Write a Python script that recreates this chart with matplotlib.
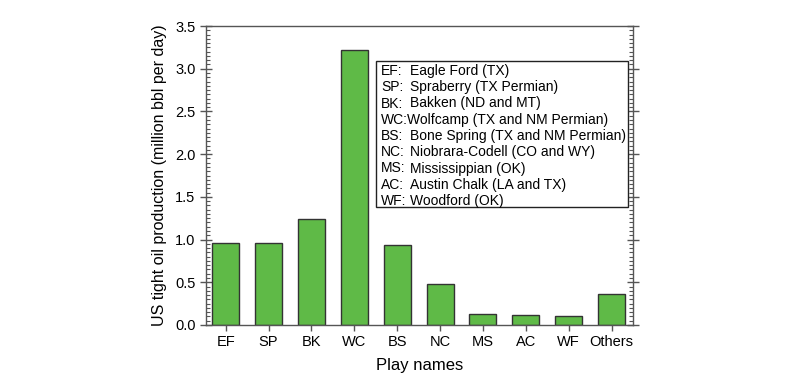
import matplotlib
matplotlib.use("Agg")
import matplotlib.pyplot as plt
from matplotlib.ticker import MultipleLocator

plt.rcParams['font.family'] = ['Liberation Sans', 'DejaVu Sans']

plays = ["EF", "SP", "BK", "WC", "BS", "NC", "MS", "AC", "WF", "Others"]
production = [0.955, 0.955, 1.235, 3.22, 0.935, 0.48, 0.128, 0.12, 0.10, 0.367]
legend_lines = [
    ("EF:", "Eagle Ford (TX)"),
    ("SP:", "Spraberry (TX Permian)"),
    ("BK:", "Bakken (ND and MT)"),
    ("WC:", "Wolfcamp (TX and NM Permian)"),
    ("BS:", "Bone Spring (TX and NM Permian)"),
    ("NC:", "Niobrara-Codell (CO and WY)"),
    ("MS:", "Mississippian (OK)"),
    ("AC:", "Austin Chalk (LA and TX)"),
    ("WF:", "Woodford (OK)"),
]

fig = plt.figure(figsize=(8, 3.75), dpi=100)
ax = fig.add_axes([206/800, 1-325/375, (633-206)/800, (325-26)/375])

x = list(range(len(plays)))
ax.bar(x, production, width=0.63, color="#5fba47", edgecolor="#333333", linewidth=1.0, zorder=2)

ax.set_xlim(-0.46, 9.5)
ax.set_ylim(0, 3.5)
ax.set_xticks(x)
ax.set_xticklabels(plays, fontsize=10.5)
ax.yaxis.set_major_locator(MultipleLocator(0.5))
ax.yaxis.set_minor_locator(MultipleLocator(0.05))
ax.set_yticklabels([f"{v:.1f}" for v in ax.get_yticks()], fontsize=10.5)

spine_color = "#555555"
for s in ax.spines.values():
    s.set_color(spine_color)
    s.set_linewidth(1.0)

ax.tick_params(axis='y', which='major', direction='inout', length=8, width=1.0,
               color=spine_color, left=True, right=True, labelleft=True, labelright=False)
ax.tick_params(axis='y', which='minor', direction='in', length=3, width=0.8,
               color=spine_color, left=True, right=True)
ax.tick_params(axis='x', which='major', direction='out', length=4, width=1.0,
               color=spine_color, bottom=True, top=False)

ax.set_xlabel("Play names", fontsize=12, labelpad=6)
ax.set_ylabel("US tight oil production (million bbl per day)", fontsize=11.5, labelpad=6)

# legend box
from matplotlib.patches import Rectangle
bx0, bx1 = 376, 628
by0, by1 = 61, 207
rect = Rectangle((bx0/800, 1-by1/375), (bx1-bx0)/800, (by1-by0)/375,
                 transform=fig.transFigure, facecolor="white", edgecolor="#222222",
                 linewidth=1.0, zorder=5)
fig.patches.append(rect)
line_h = 16.25
for i, (abbr, name) in enumerate(legend_lines):
    yy = 1 - (by0 + 10 + i*line_h)/375
    fig.text((bx0+5)/800, yy, abbr, fontsize=10, va='center', ha='left', zorder=6)
    fig.text((bx0+5+29)/800 if abbr != "WC:" else (bx0+5+26)/800, yy, name,
             fontsize=10, va='center', ha='left', zorder=6)

fig.savefig("out.png", dpi=100)
